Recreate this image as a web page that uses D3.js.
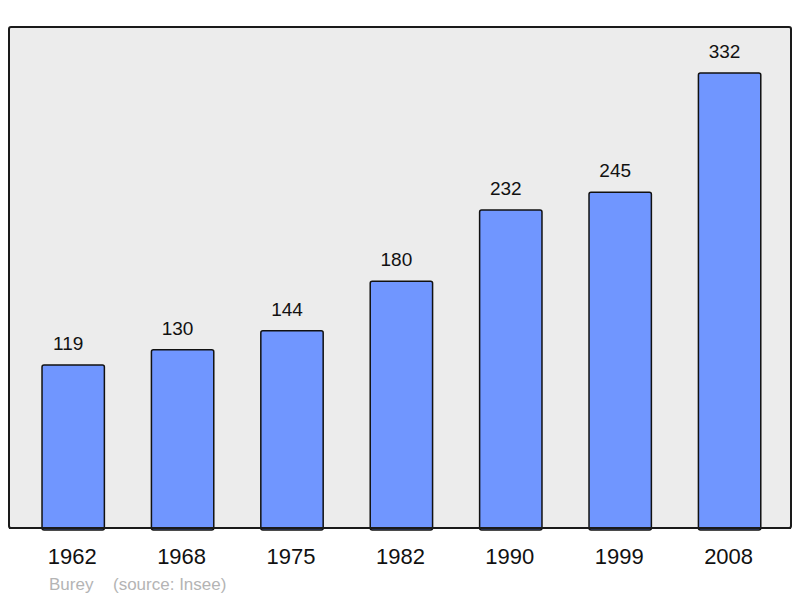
<!DOCTYPE html>
<html>
<head>
<meta charset="utf-8">
<script src="https://cdn.jsdelivr.net/npm/d3@7"></script>
<style>
  body { margin: 0; background: #fff; }
  text { font-family: "Liberation Sans", Arial, sans-serif; }
</style>
</head>
<body>
<div id="chart"></div>
<script>
// population by census year
var years = ["1962", "1968", "1975", "1982", "1990", "1999", "2008"];
var population = [119, 130, 144, 180, 232, 245, 332];
var commune = "Burey";
var source = "(source: Insee)";

var width = 800, height = 598;

var svg = d3.select("#chart")
  .append("svg")
    .attr("width", width)
    .attr("height", height);

// plot frame
svg.append("rect")
  .attr("x", 9)
  .attr("y", 27)
  .attr("width", 782)
  .attr("height", 501)
  .attr("rx", 2)
  .style("fill", "#ececec")
  .style("stroke", "#1a1a1a")
  .style("stroke-width", 2);

var x = d3.scaleBand()
  .domain(years)
  .range([18.5, 784.3])
  .paddingInner(0.43)
  .paddingOuter(0.215);

var y = d3.scaleLinear()
  .domain([0, d3.max(population) * 1.101])
  .range([528, 27]);

var data = years.map(function(d, i) { return {year: d, value: population[i]}; });

// bars
svg.append("g")
  .selectAll("rect")
  .data(data)
  .enter()
  .append("rect")
    .attr("x", function(d) { return x(d.year); })
    .attr("y", function(d) { return y(d.value); })
    .attr("width", x.bandwidth())
    .attr("height", function(d) { return y(0) - y(d.value) + 2; })
    .attr("rx", 2)
    .style("fill", "#7096ff")
    .style("stroke", "#111")
    .style("stroke-width", 1.5);

// redraw bottom edge of frame over bar ends
svg.append("line")
  .attr("x1", 9).attr("x2", 791)
  .attr("y1", 528).attr("y2", 528)
  .style("stroke", "#1a1a1a")
  .style("stroke-width", 2);

// value labels (sit a little left of bar centre, as in the original)
svg.append("g")
  .selectAll("text")
  .data(data)
  .enter()
  .append("text")
    .attr("x", function(d) { return x(d.year) + x.bandwidth() / 2 - 5; })
    .attr("y", function(d) { return y(d.value) - 15; })
    .attr("text-anchor", "middle")
    .style("font-size", "19px")
    .style("fill", "#111")
    .text(function(d) { return d.value; });

// x axis labels
var axis = svg.append("g")
  .attr("transform", "translate(0,528)")
  .call(d3.axisBottom(x).tickSize(0).tickPadding(0));
axis.select(".domain").remove();
axis.selectAll("text")
  .attr("x", -1)
  .attr("y", 36)
  .attr("dy", 0)
  .style("font-size", "22px")
  .style("font-family", "Liberation Sans, Arial, sans-serif")
  .style("fill", "#111");

// footer
svg.append("text")
  .attr("x", 49)
  .attr("y", 590)
  .style("font-size", "17px")
  .style("fill", "#b4b4b4")
  .text(commune);
svg.append("text")
  .attr("x", 113)
  .attr("y", 590)
  .style("font-size", "17px")
  .style("fill", "#b4b4b4")
  .text(source);
</script>
</body>
</html>
